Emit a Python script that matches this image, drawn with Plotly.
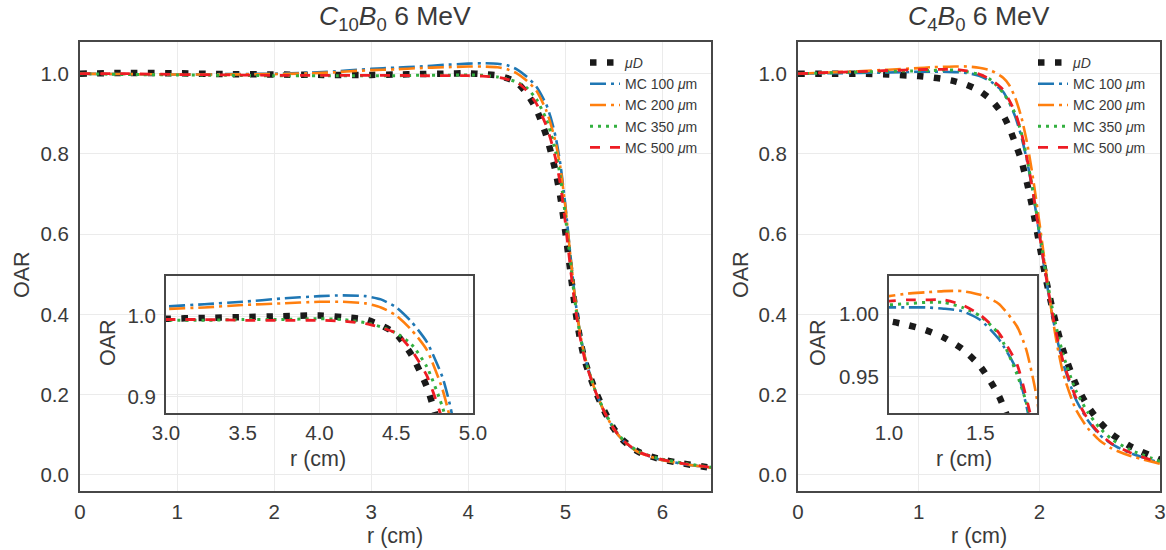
import plotly.graph_objects as go

# ---------------- data ----------------
R_LEFT = [0.0, 0.5, 1.0, 1.5, 2.0, 2.5, 3.0, 3.25, 3.5, 3.75, 4.0, 4.15, 4.3, 4.4, 4.5, 4.6,
          4.7, 4.8, 4.85, 4.9, 4.95, 5.0, 5.05, 5.1, 5.15, 5.2, 5.3, 5.4, 5.5, 5.6, 5.75,
          5.95, 6.2, 6.5]
L_MUD = [1.000, 1.002, 1.001, 0.999, 0.998, 0.997, 0.997, 0.998, 0.999, 1.000, 1.001, 0.999,
         0.996, 0.989, 0.978, 0.952, 0.912, 0.848, 0.805, 0.755, 0.690, 0.605, 0.510, 0.415,
         0.340, 0.285, 0.215, 0.160, 0.115, 0.085, 0.058, 0.041, 0.029, 0.018]
L_MC100 = [1.000, 0.999, 0.998, 0.999, 1.000, 1.004, 1.012, 1.015, 1.018, 1.022, 1.025, 1.026,
           1.025, 1.021, 1.011, 0.993, 0.968, 0.925, 0.890, 0.842, 0.772, 0.672, 0.552, 0.440,
           0.355, 0.295, 0.215, 0.158, 0.114, 0.084, 0.057, 0.040, 0.028, 0.018]
L_MC200 = [1.000, 0.999, 0.998, 0.998, 0.999, 1.002, 1.009, 1.011, 1.014, 1.016, 1.018, 1.018,
           1.016, 1.011, 1.001, 0.983, 0.958, 0.910, 0.874, 0.828, 0.764, 0.668, 0.550, 0.440,
           0.355, 0.295, 0.215, 0.158, 0.114, 0.084, 0.057, 0.040, 0.028, 0.018]
L_MC350 = [1.000, 0.998, 0.997, 0.996, 0.995, 0.995, 0.995, 0.995, 0.996, 0.996, 0.997, 0.996,
           0.992, 0.987, 0.979, 0.965, 0.937, 0.888, 0.852, 0.805, 0.740, 0.645, 0.535, 0.430,
           0.350, 0.292, 0.215, 0.160, 0.116, 0.086, 0.059, 0.042, 0.030, 0.019]
L_MC500 = [1.000, 1.000, 0.998, 0.997, 0.996, 0.996, 0.996, 0.996, 0.995, 0.995, 0.995, 0.994,
           0.991, 0.986, 0.979, 0.958, 0.926, 0.872, 0.835, 0.787, 0.722, 0.628, 0.520, 0.420,
           0.345, 0.288, 0.214, 0.158, 0.115, 0.085, 0.058, 0.041, 0.029, 0.019]

R_RIGHT = [0.0, 0.25, 0.5, 0.75, 1.0, 1.1, 1.2, 1.3, 1.4, 1.5, 1.6, 1.7, 1.75, 1.8, 1.85,
           1.9, 1.95, 2.0, 2.05, 2.1, 2.15, 2.2, 2.3, 2.4, 2.5, 2.6, 2.75, 3.0]
R_MUD = [1.000, 1.000, 1.000, 0.998, 0.994, 0.991, 0.987, 0.981, 0.972, 0.958, 0.935, 0.897,
         0.866, 0.827, 0.785, 0.725, 0.655, 0.575, 0.495, 0.425, 0.362, 0.308, 0.228, 0.172,
         0.132, 0.102, 0.072, 0.038]
R_MC100 = [1.000, 1.001, 1.002, 1.003, 1.005, 1.005, 1.005, 1.004, 1.002, 0.995, 0.980, 0.955,
           0.928, 0.893, 0.845, 0.780, 0.698, 0.600, 0.500, 0.410, 0.335, 0.275, 0.190, 0.137,
           0.100, 0.077, 0.055, 0.030]
R_MC200 = [1.000, 1.003, 1.006, 1.010, 1.014, 1.016, 1.017, 1.018, 1.018, 1.015, 1.008, 0.990,
           0.972, 0.940, 0.893, 0.825, 0.735, 0.630, 0.520, 0.410, 0.320, 0.250, 0.165, 0.117,
           0.086, 0.066, 0.048, 0.028]
R_MC350 = [1.000, 1.002, 1.004, 1.006, 1.007, 1.008, 1.009, 1.009, 1.005, 0.998, 0.984, 0.952,
           0.930, 0.900, 0.853, 0.785, 0.703, 0.607, 0.512, 0.426, 0.356, 0.297, 0.212, 0.157,
           0.117, 0.089, 0.063, 0.034]
R_MC500 = [1.000, 1.003, 1.005, 1.008, 1.010, 1.011, 1.011, 1.011, 1.007, 0.999, 0.985, 0.960,
           0.934, 0.903, 0.855, 0.785, 0.700, 0.602, 0.505, 0.415, 0.340, 0.280, 0.195, 0.140,
           0.103, 0.078, 0.056, 0.030]

SERIES_NAMES = ["<i>μD</i>", "MC 100 <i>μ</i>m", "MC 200 <i>μ</i>m",
                "MC 350 <i>μ</i>m", "MC 500 <i>μ</i>m"]
LEFT_VALUES = [L_MUD, L_MC100, L_MC200, L_MC350, L_MC500]
RIGHT_VALUES = [R_MUD, R_MC100, R_MC200, R_MC350, R_MC500]

MAIN_Y_TICKS = [0.0, 0.2, 0.4, 0.6, 0.8, 1.0]
LEFT_X_TICKS = [0, 1, 2, 3, 4, 5, 6]
RIGHT_X_TICKS = [0, 1, 2, 3]
INSET_L_X_TICKS = [3.0, 3.5, 4.0, 4.5, 5.0]
INSET_L_Y_TICKS = [0.9, 1.0]
INSET_R_X_TICKS = [1.0, 1.5]
INSET_R_Y_TICKS = [0.95, 1.00]

# ---------------- styles ----------------
FONT = "Liberation Sans, Arial, Helvetica, sans-serif"
TXT = "#3a3a3a"
TICK_SIZE = 20.5
AXT_SIZE = 21.5
STYLES = [
    dict(color="#1a1a1a", width=6.5, dash="6.5px,10.5px"),
    dict(color="#1f77b4", width=2.6, dash="16px,5px,3px,5px"),
    dict(color="#ff7f0e", width=2.6, dash="16px,5px,3px,5px"),
    dict(color="#33b040", width=3, dash="3px,5px"),
    dict(color="#ee1c24", width=2.8, dash="10px,10px"),
]

W, H = 1166, 550


def px_x(p):
    return p / W


def px_y(p):
    return 1 - p / H


fig = go.Figure()


def add_panel(r, values, xa, ya, legend, show):
    for name, vals, st in zip(SERIES_NAMES, values, STYLES):
        fig.add_trace(go.Scatter(
            x=r, y=vals, mode="lines", name=name,
            line=dict(color=st["color"], width=st["width"], dash=st["dash"],
                      shape="spline", smoothing=0.6),
            xaxis=xa, yaxis=ya, legend=legend, showlegend=show,
            hoverinfo="skip"))


add_panel(R_LEFT, LEFT_VALUES, "x", "y", "legend", True)
add_panel(R_LEFT, LEFT_VALUES, "x2", "y2", "legend", False)
add_panel(R_RIGHT, RIGHT_VALUES, "x3", "y3", "legend2", True)
add_panel(R_RIGHT, RIGHT_VALUES, "x4", "y4", "legend2", False)


def axis(domain, rng, ticks, fmt, anchor, ticklen):
    return dict(domain=domain, range=rng, tickvals=ticks, tickformat=fmt,
                showgrid=True, gridcolor="#ebebeb", gridwidth=1, zeroline=False,
                showline=True, mirror=True, linecolor="#474747", linewidth=2,
                ticks="outside", ticklen=ticklen, tickcolor="rgba(0,0,0,0)",
                tickfont=dict(family=FONT, size=TICK_SIZE, color=TXT), anchor=anchor,
                automargin=False)


main_y_dom = [px_y(491), px_y(42)]
inset_y_dom = [px_y(413), px_y(276)]

layout = dict(
    width=W, height=H, margin=dict(l=0, r=0, t=0, b=0, autoexpand=False),
    paper_bgcolor="white", plot_bgcolor="rgba(0,0,0,0)",
    xaxis=axis([px_x(80), px_x(711)], [0, 6.5], LEFT_X_TICKS, "d", "y", 1),
    yaxis=axis(main_y_dom, [-0.04, 1.079], MAIN_Y_TICKS, ".1f", "x", 5),
    xaxis2=axis([px_x(166), px_x(473)], [3.0, 5.0], INSET_L_X_TICKS, ".1f", "y2", 0),
    yaxis2=axis(inset_y_dom, [0.880, 1.050], INSET_L_Y_TICKS, ".1f", "x2", 4),
    xaxis3=axis([px_x(798), px_x(1160)], [0, 3], RIGHT_X_TICKS, "d", "y3", 1),
    yaxis3=axis(main_y_dom, [-0.04, 1.079], MAIN_Y_TICKS, ".1f", "x3", 5),
    xaxis4=axis([px_x(889), px_x(1037)], [1.0, 1.81], INSET_R_X_TICKS, ".1f", "y4", 0),
    yaxis4=axis(inset_y_dom, [0.921, 1.030], INSET_R_Y_TICKS, ".2f", "x4", 4),
    legend=dict(x=px_x(585), y=px_y(47), xanchor="left", yanchor="top",
                bgcolor="rgba(255,255,255,0)", itemwidth=30,
                font=dict(family=FONT, size=14, color=TXT)),
    legend2=dict(x=px_x(1033), y=px_y(47), xanchor="left", yanchor="top",
                 bgcolor="rgba(255,255,255,0)", itemwidth=30,
                 font=dict(family=FONT, size=14, color=TXT)),
    showlegend=True,
)
fig.update_layout(**layout)


def label(text, x, y, size, angle=0):
    fig.add_annotation(text=text, x=px_x(x), y=px_y(y), xref="paper", yref="paper",
                       showarrow=False, textangle=angle, xanchor="center", yanchor="middle",
                       font=dict(family=FONT, size=size, color=TXT))


label("<i>C</i><sub>10</sub><i>B</i><sub>0</sub> 6 MeV", 395, 18, 26.5)
label("<i>C</i><sub>4</sub><i>B</i><sub>0</sub> 6 MeV", 979, 18, 26.5)
label("OAR", 22, 275, AXT_SIZE, -90)
label("r (cm)", 395, 536, AXT_SIZE)
label("OAR", 741, 275, AXT_SIZE, -90)
label("r (cm)", 979, 536, AXT_SIZE)
label("OAR", 108, 343, AXT_SIZE, -90)
label("r (cm)", 318, 459, AXT_SIZE)
label("OAR", 818, 343, AXT_SIZE, -90)
label("r (cm)", 964, 459, AXT_SIZE)

fig.write_html("out.html")
